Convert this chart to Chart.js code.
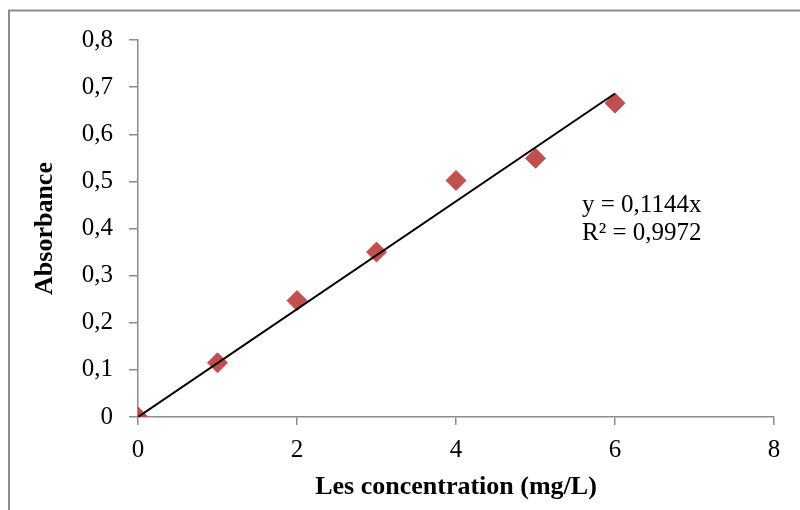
<!DOCTYPE html>
<html>
<head>
<meta charset="utf-8">
<script src="https://cdn.jsdelivr.net/npm/chart.js@4"></script>
<style>
    html, body { margin: 0; padding: 0; background: #fff; }
    #wrap { width: 800px; height: 510px; position: relative; }
</style>
</head>
<body>
<div id="wrap"><canvas id="chart-absorbance"></canvas></div>
<script>
const concentrations = [0, 1, 2, 3, 4, 5, 6];
const absorbances = [0, 0.115, 0.247, 0.35, 0.502, 0.549, 0.666];
const slope = 0.1144;
const rSquared = "0,9972";
const trendX = [0, 6];

const MARKER = "#C0504D";
const AXIS = "#8c8c8c";
const FONT = "'Liberation Serif', 'Times New Roman', serif";

Chart.defaults.font.family = FONT;
Chart.defaults.color = "#000";

const commaNum = (v) => String(Math.round(v * 10) / 10).replace(".", ",");

const frame = {
    id: "frame",
    beforeDraw(chart) {
        const ctx = chart.ctx;
        ctx.save();
        ctx.strokeStyle = AXIS;
        ctx.lineWidth = 2;
        ctx.strokeRect(9, 10.5, 800, 510);
        ctx.restore();
    },
    afterDraw(chart) {
        // trendline equation, as Excel puts it
        const ctx = chart.ctx;
        ctx.save();
        ctx.fillStyle = "#000";
        ctx.font = `25px ${FONT}`;
        ctx.textBaseline = "alphabetic";
        ctx.fillText(`y = ${String(slope).replace(".", ",")}x`, 582, 212);
        ctx.fillText(`R² = ${rSquared}`, 582, 240);
        ctx.restore();
    },
};

const canvas = document.getElementById("chart-absorbance");
new Chart(canvas, {
    type: "scatter",
    data: {
        datasets: [
            {
                label: "Trend",
                type: "line",
                data: trendX.map((x) => ({ x, y: slope * x })),
                borderColor: "#000",
                borderWidth: 2,
                pointRadius: 0,
                fill: false,
                order: 0,
            },
            {
                label: "Absorbance",
                data: concentrations.map((x, i) => ({ x, y: absorbances[i] })),
                pointStyle: "rectRot",
                pointRadius: 10,
                backgroundColor: MARKER,
                borderColor: MARKER,
                borderWidth: 1,
                order: 1,
            },
        ],
    },
    plugins: [frame],
    options: {
        responsive: true,
        maintainAspectRatio: false,
        animation: false,
        layout: { padding: { top: 40, right: 26, bottom: 0, left: 0 } },
        plugins: {
            legend: { display: false },
            tooltip: { enabled: false },
        },
        scales: {
            x: {
                type: "linear",
                min: 0,
                max: 8,
                afterFit: (s) => { s.height = 93; },
                ticks: { stepSize: 2, padding: 10, font: { size: 25 }, color: "#000" },
                grid: { drawOnChartArea: false, drawTicks: true, tickLength: 8, color: AXIS, lineWidth: 1.5 },
                border: { color: AXIS, width: 1.5 },
                title: {
                    display: true,
                    text: "Les concentration (mg/L)",
                    font: { size: 26, weight: "bold" },
                    color: "#000",
                    padding: { top: 0, bottom: 7.4 },
                },
            },
            y: {
                min: 0,
                max: 0.8,
                afterFit: (s) => { s.width = 138; },
                ticks: { stepSize: 0.1, padding: 16, font: { size: 25 }, color: "#000", callback: (v) => commaNum(v) },
                grid: { drawOnChartArea: false, drawTicks: true, tickLength: 9, color: AXIS, lineWidth: 1.5 },
                border: { color: AXIS, width: 1.5 },
                title: {
                    display: true,
                    text: "Absorbance",
                    font: { size: 26, weight: "bold" },
                    color: "#000",
                    padding: { top: 29.4, bottom: 0 },
                },
            },
        },
    },
});
</script>
</body>
</html>
